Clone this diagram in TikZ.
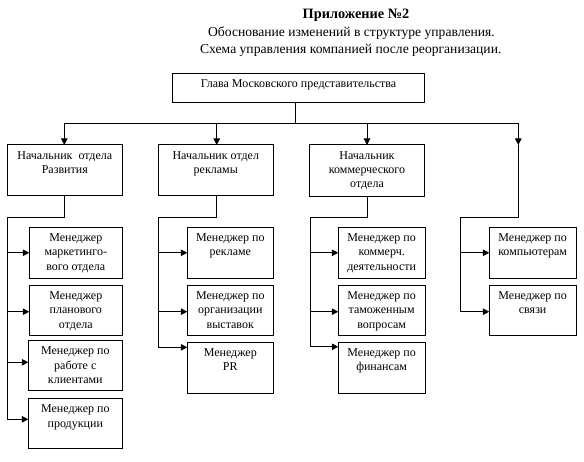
\documentclass[tikz,border=0pt]{standalone}
\usepackage{fontspec}
\setmainfont{Liberation Serif}
\usetikzlibrary{arrows.meta}
\newcommand{\bxt}[3]{\parbox[c][#2][t]{#1}{\centering\fontsize{12}{14.2}\selectfont\rule{0pt}{14.5pt}#3\par}}
\begin{document}
\begin{tikzpicture}[x=1pt,y=-1pt,
  box/.style={draw,line width=1pt,inner sep=0pt,outer sep=0pt,anchor=north west},
  ttl/.style={inner sep=0pt,font=\fontsize{13.6}{15}\selectfont},
  conn/.style={line width=1pt},
  arr/.style={line width=1pt,-{Triangle[width=6.5pt,length=6.5pt]}}]
\useasboundingbox (0,0) rectangle (584,462);
% titles
\node[ttl,font=\fontsize{14.3}{16}\selectfont\bfseries] (t1) at (356,15) {Приложение №2};
\node[ttl] (t2) at (351.5,33.3) {Обоснование изменений в структуре управления.};
\node[ttl] (t3) at (350.8,50) {Схема управления компанией после реорганизации.};
% top
\node[box] (root) at (172.3,73.3) {\bxt{252.4pt}{29pt}{Глава Московского представительства}};
\node[box] (b1) at (7.3,145) {\bxt{115pt}{51pt}{Начальник\ \ отдела\\Развития}};
\node[box] (b2) at (158.3,145) {\bxt{115pt}{51pt}{Начальник отдел\\рекламы}};
\node[box] (b3) at (309.3,145) {\bxt{115.4pt}{51.5pt}{Начальник\\коммерческого\\отдела}};
\coordinate (c4) at (518.3,145);
% managers col1
\node[box] (m11) at (29.3,227.3) {\bxt{93pt}{51pt}{Менеджер\\маркетинго-\\вого отдела}};
\node[box] (m12) at (29.3,285.3) {\bxt{93pt}{50pt}{Менеджер\\планового\\отдела}};
\node[box] (m13) at (28.3,340.3) {\bxt{94pt}{50pt}{Менеджер по\\работе с\\клиентами}};
\node[box] (m14) at (28.3,398.3) {\bxt{94pt}{50pt}{Менеджер по\\продукции}};
% col2
\node[box] (m21) at (187.3,227.3) {\bxt{86pt}{51pt}{Менеджер по\\рекламе}};
\node[box] (m22) at (187.3,285.3) {\bxt{86pt}{50pt}{Менеджер по\\организации\\выставок}};
\node[box] (m23) at (187.3,342.3) {\bxt{86pt}{51pt}{Менеджер\\PR}};
% col3
\node[box] (m31) at (338.3,227.3) {\bxt{86.7pt}{51pt}{Менеджер по\\коммерч.\\деятельности}};
\node[box] (m32) at (338.3,285.3) {\bxt{86.7pt}{50pt}{Менеджер по\\таможенным\\вопросам}};
\node[box] (m33) at (338.3,342.3) {\bxt{86.7pt}{51pt}{Менеджер по\\финансам}};
% col4
\node[box] (m41) at (489.3,227.3) {\bxt{86.7pt}{51pt}{Менеджер по\\компьютерам}};
\node[box] (m42) at (489.3,285.3) {\bxt{86.7pt}{50pt}{Менеджер по\\связи}};
% top connectors
\coordinate (rs) at ([xshift=-2.8pt]root.south);
\draw[arr] (rs) -- ++(0,21.7) -| ([xshift=-0.5pt]b1.north);
\draw[arr] (rs) -- ++(0,21.7) -| ([xshift=0.9pt]b2.north);
\draw[arr] (rs) -- ++(0,21.7) -| (b3.north);
\draw[arr] (rs) -- ++(0,21.7) -| (c4);
% bus corners
\coordinate (k1) at (7.3,217.3);
\coordinate (k2) at (158.3,217.3);
\coordinate (k3) at (310,217.3);
\coordinate (k4) at (460.7,217.3);
\coordinate (k4t) at (518.3,217.3);
% col1
\draw[arr] ([xshift=-0.5pt]b1.south) |- (k1) |- (m11.west);
\draw[arr] (k1) |- ([yshift=-1.4pt]m12.west);
\draw[arr] (k1) |- ([yshift=3pt]m13.west);
\draw[arr] (k1) |- ([yshift=4pt]m14.west);
% col2
\draw[arr] ([xshift=0.9pt]b2.south) |- (k2) |- (m21.west);
\draw[arr] (k2) |- ([yshift=-1.4pt]m22.west);
\draw[arr] (k2) |- ([yshift=20.5pt]m23.west);
% col3
\draw[arr] (b3.south) |- (k3) |- (m31.west);
\draw[arr] (k3) |- ([yshift=-1.4pt]m32.west);
\draw[arr] (k3) |- ([yshift=21pt]m33.west);
% col4
\draw[arr] (c4) -- (k4t) -- (k4) |- (m41.west);
\draw[arr] (k4) |- ([yshift=-1.4pt]m42.west);
\end{tikzpicture}
\end{document}
